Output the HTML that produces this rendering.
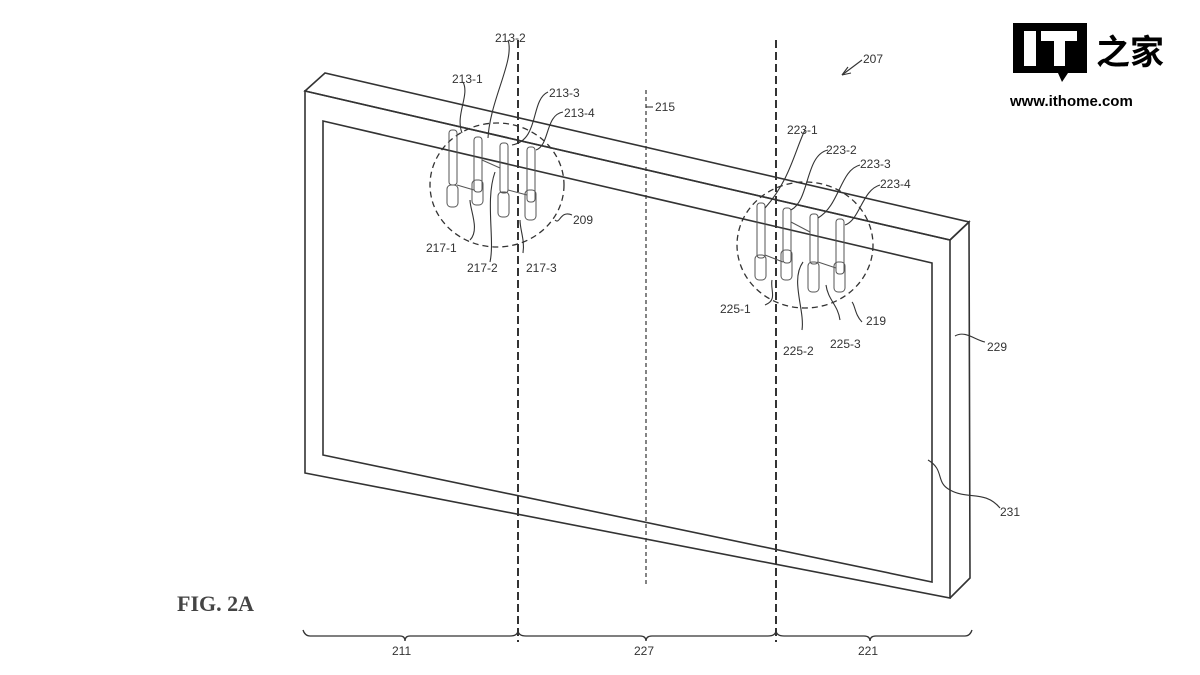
<!DOCTYPE html>
<html><head><meta charset="utf-8"><style>
html,body{margin:0;padding:0;background:#fff;}
svg{display:block;}
text{font-family:"Liberation Sans",Arial,sans-serif;font-size:12px;fill:#333;}
</style></head><body>
<svg width="1200" height="675" viewBox="0 0 1200 675" xmlns="http://www.w3.org/2000/svg">
<g fill="none" stroke="#333" stroke-width="1.6">
<!-- frame -->
<path d="M305,91 L325,73 L969,222 L950,240 Z"/>
<path d="M305,91 L950,240 L950,598 L305,473 Z"/>
<path d="M950,240 L969,222 L970,578 L950,598"/>
<path d="M323,121 L932,263 L932,582 L323,455 Z"/>
</g>
<!-- dashed lines -->
<g stroke="#333" fill="none">
<line x1="518" y1="40" x2="518" y2="642" stroke-width="2" stroke-dasharray="8,4"/>
<line x1="776" y1="40" x2="776" y2="642" stroke-width="2" stroke-dasharray="8,4"/>
<line x1="646" y1="90" x2="646" y2="585" stroke-width="1.2" stroke-dasharray="4,3"/>
<ellipse cx="497" cy="185" rx="67" ry="62" stroke-width="1.3" stroke-dasharray="6,4"/>
<ellipse cx="805" cy="245" rx="68" ry="63" stroke-width="1.3" stroke-dasharray="6,4"/>
</g>
<!-- pins left group -->
<g stroke="#555" fill="none" stroke-width="1">
<rect x="449" y="130" width="8" height="55" rx="3"/><rect x="447" y="185" width="11" height="22" rx="4"/>
<rect x="474" y="137" width="8" height="55" rx="3"/><rect x="472" y="180" width="11" height="25" rx="4"/>
<rect x="500" y="143" width="8" height="50" rx="3"/><rect x="498" y="192" width="11" height="25" rx="4"/>
<rect x="527" y="147" width="8" height="55" rx="3"/><rect x="525" y="190" width="11" height="30" rx="4"/>
<line x1="457" y1="185" x2="474" y2="190"/><line x1="482" y1="160" x2="500" y2="168"/><line x1="508" y1="190" x2="527" y2="195"/>
<rect x="757" y="203" width="8" height="55" rx="3"/><rect x="755" y="255" width="11" height="25" rx="4"/>
<rect x="783" y="208" width="8" height="55" rx="3"/><rect x="781" y="250" width="11" height="30" rx="4"/>
<rect x="810" y="214" width="8" height="50" rx="3"/><rect x="808" y="262" width="11" height="30" rx="4"/>
<rect x="836" y="219" width="8" height="55" rx="3"/><rect x="834" y="262" width="11" height="30" rx="4"/>
<line x1="765" y1="255" x2="783" y2="262"/><line x1="791" y1="222" x2="810" y2="232"/><line x1="818" y1="262" x2="836" y2="268"/>
</g>
<!-- leaders -->
<g stroke="#333" fill="none" stroke-width="1.1">
<path d="M463,82 C470,95 455,115 462,133"/>
<path d="M508,40 C515,60 490,100 488,138"/>
<path d="M548,92 C530,100 540,140 512,145"/>
<path d="M563,112 C545,115 550,145 536,150"/>
<path d="M470,240 C480,230 470,210 470,200"/>
<path d="M490,262 C495,240 485,200 495,172"/>
<path d="M523,253 C525,240 520,230 520,220"/>
<path d="M572,215 C560,210 560,225 555,220"/>
<path d="M646,107 L653,107"/>
<path d="M805,130 C795,150 790,180 765,208"/>
<path d="M828,150 C805,155 810,200 791,210"/>
<path d="M860,165 C840,170 840,205 818,218"/>
<path d="M880,185 C862,190 860,220 845,225"/>
<path d="M765,305 C778,300 770,290 772,280"/>
<path d="M802,330 C805,310 790,280 803,262"/>
<path d="M840,320 C838,305 828,300 826,285"/>
<path d="M862,322 C855,315 855,305 852,302"/>
<path d="M985,342 C975,340 965,330 955,336"/>
<path d="M1000,508 C985,490 968,500 950,490 C935,482 945,470 928,460"/>
<path d="M862,60 L842,75"/><path d="M842,75 L848,67 M842,75 L851,73"/>
</g>
<!-- brace -->
<path d="M303,630 Q305,636 310,636 L400,636 Q405,636 405,641 Q405,636 410,636 L510,636 Q518,636 518,630 Q518,636 526,636 L640,636 Q646,636 646,641 Q646,636 652,636 L768,636 Q776,636 776,630 Q776,636 784,636 L864,636 Q870,636 870,641 Q870,636 876,636 L965,636 Q970,636 972,630" fill="none" stroke="#333" stroke-width="1.3"/>
<!-- labels -->
<text x="452" y="83">213-1</text>
<text x="495" y="42">213-2</text>
<text x="549" y="97">213-3</text>
<text x="564" y="117">213-4</text>
<text x="426" y="252">217-1</text>
<text x="467" y="272">217-2</text>
<text x="526" y="272">217-3</text>
<text x="573" y="224">209</text>
<text x="655" y="111">215</text>
<text x="863" y="63">207</text>
<text x="787" y="134">223-1</text>
<text x="826" y="154">223-2</text>
<text x="860" y="168">223-3</text>
<text x="880" y="188">223-4</text>
<text x="720" y="313">225-1</text>
<text x="783" y="355">225-2</text>
<text x="830" y="348">225-3</text>
<text x="866" y="325">219</text>
<text x="987" y="351">229</text>
<text x="1000" y="516">231</text>
<text x="392" y="655">211</text>
<text x="634" y="655">227</text>
<text x="858" y="655">221</text>
<text x="177" y="611" style="font-family:'Liberation Serif',serif;font-size:22px;font-weight:bold;fill:#444">FIG. 2A</text>
<!-- logo -->
<path d="M1013,23 H1087 V73 H1068 L1062,82 L1058,73 H1013 Z" fill="#000"/>
<rect x="1024" y="31" width="12" height="35" fill="#fff"/>
<rect x="1041" y="31" width="36" height="10" fill="#fff"/>
<rect x="1054" y="31" width="11" height="35" fill="#fff"/>
<text x="1096" y="64" style="font-family:'Noto Sans CJK SC',sans-serif;font-size:34px;font-weight:bold;fill:#000">之家</text>
<text x="1010" y="106" style="font-size:15px;font-weight:bold;fill:#000">www.ithome.com</text>
</svg>
</body></html>
